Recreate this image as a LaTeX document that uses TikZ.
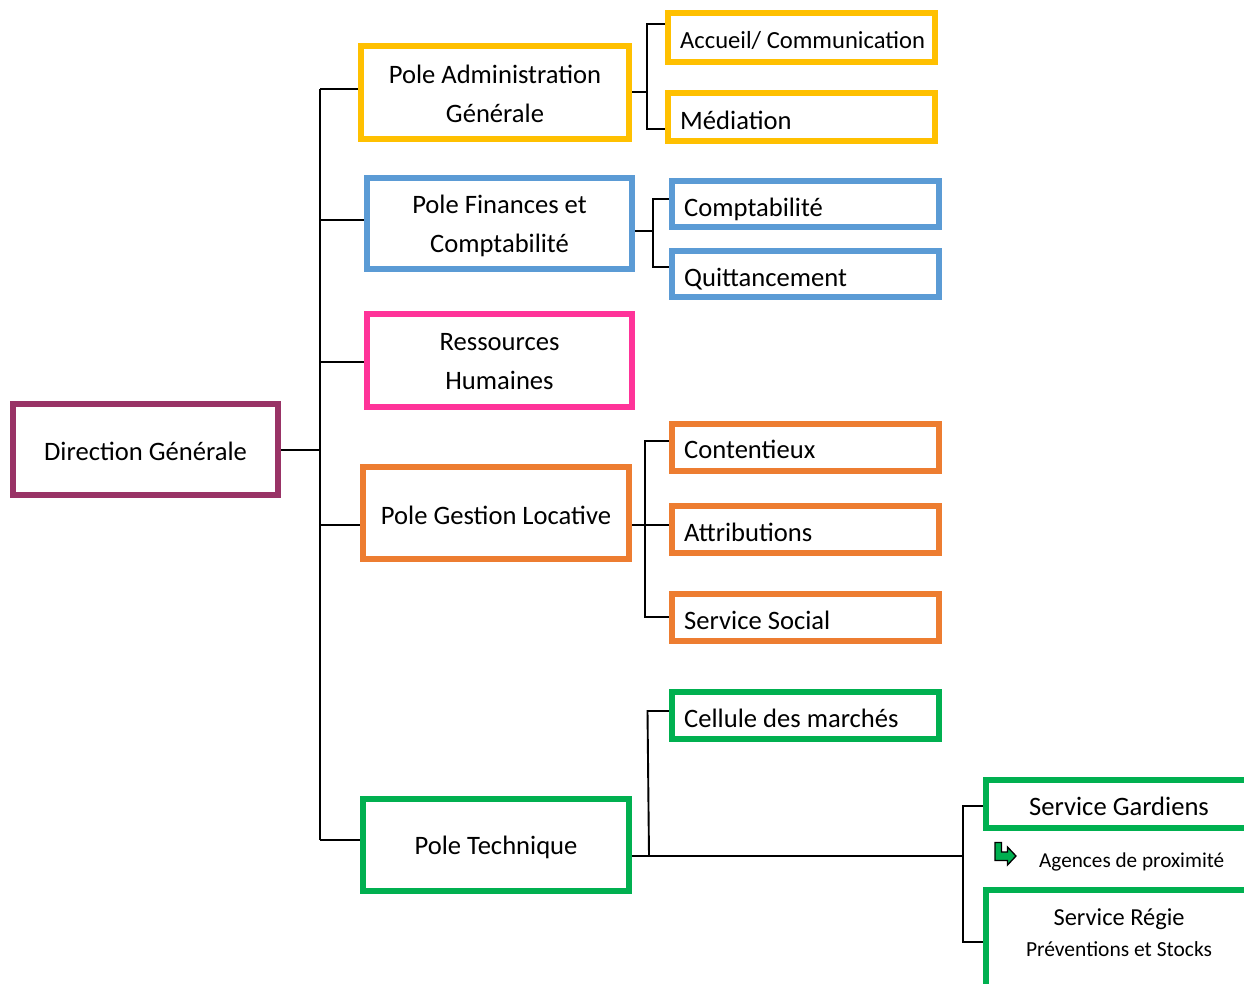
\documentclass[tikz,border=0pt]{standalone}
\usepackage{fontspec}
\setmainfont{Carlito}
\usetikzlibrary{backgrounds}
\definecolor{cpurple}{HTML}{993366}
\definecolor{cyellow}{HTML}{FFC000}
\definecolor{cblue}{HTML}{5B9BD5}
\definecolor{cpink}{HTML}{FF3399}
\definecolor{corange}{HTML}{ED7D31}
\definecolor{cgreen}{HTML}{00B050}
\begin{document}
\begin{tikzpicture}[x=1pt,y=-1pt,
  box/.style={draw, line width=6pt, fill=white, inner sep=0pt},
  bigbox/.style={box, minimum width=266pt, minimum height=92pt},
  bigtxt/.style={align=center, inner sep=0pt, font=\fontsize{26.6}{39}\selectfont},
  subbox/.style={box, minimum width=267pt, minimum height=47pt},
  subtxt/.style={anchor=base west, inner sep=0pt, font=\fontsize{26.6}{30}\selectfont},
  conn/.style={draw=black, line width=1.9pt}]
\useasboundingbox (0,0) rectangle (1244,983);
\clip (0,0) rectangle (1244,983);

% main boxes
\node[bigbox, draw=cpurple, minimum width=265pt, minimum height=91pt] (DG) at (145.5,449.5) {};
\node[bigtxt] (DGt) at ([yshift=-2pt]DG.center) {Direction Générale};
\node[bigbox, draw=cyellow, minimum width=268pt, minimum height=93pt] (PAG) at (495,92.5) {};
\node[bigtxt] (PAGt) at ([yshift=-1.5pt]PAG.center) {Pole Administration\\Générale};
\node[bigbox, draw=cblue, minimum width=265pt, minimum height=91pt] (PFC) at (499.5,223.5) {};
\node[bigtxt] (PFCt) at ([yshift=-2.5pt]PFC.center) {Pole Finances et\\Comptabilité};
\node[bigbox, draw=cpink, minimum width=265pt, minimum height=93pt] (RH) at (499.5,360.5) {};
\node[bigtxt] (RHt) at ([yshift=-1.5pt]RH.center) {Ressources\\Humaines};
\node[bigbox, draw=corange] (PGL) at (496,513) {};
\node[bigtxt] (PGLt) at ([yshift=-2pt]PGL.center) {Pole Gestion Locative};
\node[bigbox, draw=cgreen] (PT) at (496,845) {};
\node[bigtxt] (PTt) at ([yshift=-2.5pt]PT.center) {Pole Technique};

% sub boxes
\node[subbox, draw=cyellow, minimum height=49pt] (acc) at (801.5,37.5) {};
\node[subtxt, font=\fontsize{24.6}{28}\selectfont] (accT) at (680,48) {Accueil/ Communication};
\node[subbox, draw=cyellow, minimum height=48pt] (med) at (801.5,117) {};
\node[subtxt] (medT) at (680,129) {Médiation};

\node[subbox, draw=cblue, minimum height=46pt] (cpt) at (805.5,204) {};
\node[subtxt] (cptT) at (684,216) {Comptabilité};
\node[subbox, draw=cblue, minimum height=46pt] (qui) at (805.5,274) {};
\node[subtxt] (quiT) at (684,286) {Quittancement};

\node[subbox, draw=corange] (cont) at (805.5,447) {};
\node[subtxt] (contT) at (684,458) {Contentieux};
\node[subbox, draw=corange] (att) at (805.5,529.5) {};
\node[subtxt] (attT) at (684,541) {Attributions};
\node[subbox, draw=corange] (soc) at (805.5,617) {};
\node[subtxt] (socT) at (684,629) {Service Social};

\node[subbox, draw=cgreen] (cell) at (805.5,715) {};
\node[subtxt] (cellT) at (684,727) {Cellule des marchés};

\node[subbox, draw=cgreen, minimum width=266pt, minimum height=48pt] (sg) at (1119,804) {};
\node[subtxt, anchor=base] (sgT) at (1119,815.5) {Service Gardiens};
\node[box, draw=cgreen, minimum width=266pt, minimum height=110pt] (sr) at (1119,945) {};
\node[subtxt, anchor=base, font=\fontsize{24.4}{28}\selectfont] (srT) at (1119,925.5) {Service Régie};
\node[subtxt, anchor=base, font=\fontsize{21.5}{25}\selectfont] (srT2) at (1119,956.5) {Préventions et Stocks};

% icon + label
\draw[fill=cgreen, line width=1.3pt, line join=miter]
  (995,842.5) -- (1001.5,842.5) -- (1001.5,852) -- (1007.5,852) -- (1007.5,847) -- (1016,856)
  -- (1007.5,865) -- (1007.5,860.5) -- (995,860.5) -- cycle;
\node[subtxt, font=\fontsize{21.2}{24}\selectfont] (agT) at (1039,867) {Agences de proximité};

% junction coordinates
\coordinate (jPAG) at (320,89);
\coordinate (jPFC) at (320,220);
\coordinate (jRH) at (320,362);
\coordinate (jDG) at (320,450);
\coordinate (jPGL) at (320,525);
\coordinate (jPT) at (320,840);
\coordinate (yv1) at (647,24);
\coordinate (yv2) at (647,129);
\coordinate (ym) at (647,92);
\coordinate (bv1) at (653,199);
\coordinate (bv2) at (653,267);
\coordinate (bm) at (653,231);
\coordinate (ov1) at (645,441);
\coordinate (ov2) at (645,617);
\coordinate (om) at (645,525);
\coordinate (gv1) at (647.5,711);
\coordinate (gm) at (649,856);
\coordinate (sv) at (963,856);
\coordinate (sv1) at (963,806);
\coordinate (sv2) at (963,942);

\begin{scope}[on background layer]
  \draw[conn] (jPAG) -- (jPT);
  \draw[conn] (DG.east |- jDG) -- (jDG);
  \draw[conn] (jPAG) -- (PAG.west |- jPAG);
  \draw[conn] (jPFC) -- (PFC.west |- jPFC);
  \draw[conn] (jRH) -- (RH.west |- jRH);
  \draw[conn] (jPGL) -- (PGL.west |- jPGL);
  \draw[conn] (jPT) -- (PT.west |- jPT);
  % yellow
  \draw[conn] (PAG.east |- ym) -- (ym);
  \draw[conn] (acc.west |- yv1) -- (yv1) -- (yv2) -- (med.west |- yv2);
  % blue
  \draw[conn] (PFC.east |- bm) -- (bm);
  \draw[conn] (cpt.west |- bv1) -- (bv1) -- (bv2) -- (qui.west |- bv2);
  % orange
  \draw[conn] (PGL.east |- om) -- (att.west |- om);
  \draw[conn] (cont.west |- ov1) -- (ov1) -- (ov2) -- (soc.west |- ov2);
  % green
  \draw[conn] (cell.west |- gv1) -- (gv1) -- (gm);
  \draw[conn] (PT.east |- gm) -- (sv);
  \draw[conn] (sg.west |- sv1) -- (sv1) -- (sv2) -- (sr.west |- sv2);
\end{scope}
\end{tikzpicture}
\end{document}
